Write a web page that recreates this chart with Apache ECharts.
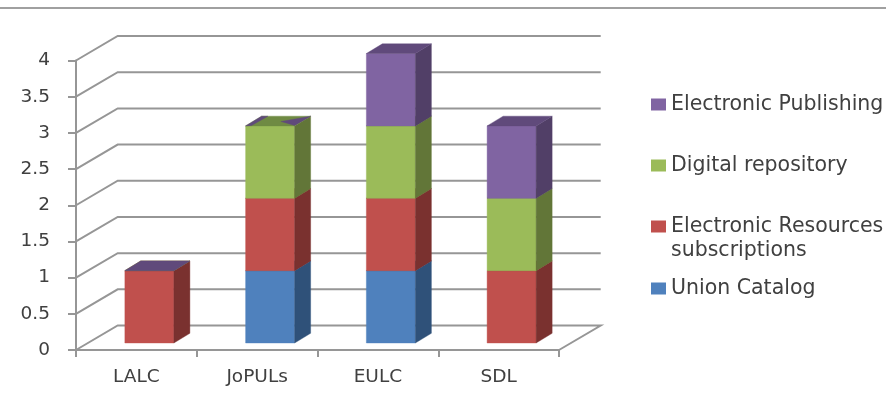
<!DOCTYPE html>
<html><head><meta charset="utf-8">
<style>html,body{margin:0;padding:0;background:#fff}#c{width:886px;height:400px}</style>
<script src="https://cdn.jsdelivr.net/npm/echarts@6/dist/echarts.min.js"></script>
</head><body><div id="c"></div>
<script>
const categories = ['LALC','JoPULs','EULC','SDL'];
const unionCatalog = [0,1,1,0];
const electronicResources = [1,1,1,1];
const digitalRepository = [0,1,1,1];
const electronicPublishing = [0,0,1,1];
const yTicks = [0,0.5,1,1.5,2,2.5,3,3.5,4];

const FONT = 'DejaVu Sans';
const AXIS_SIZE = 18.5;
const LEGEND_SIZE = 20.5;
const TEXT = '#404040';
const LINE = '#969696';
const WALL = {dx:41.7, dy:-24.5};
const FRONT = {dx:13, dy:-7};
const SIDE = {dx:16, dy:-9.7};
const BAR_FRAC = 0.406;

const seriesDefs = [
 {name:'Union Catalog', values:unionCatalog, front:'#4f81bd', side:'#2f5179', top:'#3e6595'},
 {name:'Electronic Resources subscriptions', values:electronicResources, front:'#c0504d', side:'#7a312f', top:'#96403d'},
 {name:'Digital repository', values:digitalRepository, front:'#9bbb59', side:'#627638', top:'#6f8a43'},
 {name:'Electronic Publishing', values:electronicPublishing, front:'#8064a2', side:'#513f67', top:'#604a7b'}
];
const cumulative = categories.map(()=>0);
function poly(points, fill){
  return {type:'polygon', shape:{points}, style:{fill, stroke:fill, lineWidth:0.4}};
}
const barSeries = seriesDefs.map((d,si)=>{
  const data = d.values.map((v,i)=>{
    const base = cumulative[i]; cumulative[i]+=v;
    return [i, base, base+v];
  });
  const isTop = si===seriesDefs.length-1;
  return {
    name:d.name, type:'custom', coordinateSystem:'cartesian2d', clip:false, z:3+si,
    itemStyle:{color:d.front}, encode:{x:0,y:[1,2]}, data, animation:false, silent:true,
    renderItem(params, api){
      const i=api.value(0), lo=api.value(1), hi=api.value(2);
      const w=api.size([1,0])[0]*BAR_FRAC;
      const pLo=api.coord([i,lo]), pHi=api.coord([i,hi]);
      const x0=pLo[0]+FRONT.dx-w/2, x1=x0+w;
      const yB=pLo[1]+FRONT.dy, yT=pHi[1]+FRONT.dy;
      const children=[];
      const topFace=[[x0,yT],[x1,yT],[x1+SIDE.dx,yT+SIDE.dy],[x0+SIDE.dx,yT+SIDE.dy]];
      if(hi>lo){
        children.push(poly([[x0,yB],[x1,yB],[x1,yT],[x0,yT]],d.front));
        children.push(poly([[x1,yB],[x1+SIDE.dx,yB+SIDE.dy],[x1+SIDE.dx,yT+SIDE.dy],[x1,yT]],d.side));
        children.push(poly(topFace,d.top));
      } else if(isTop && digitalRepository[i]>0){
        // zero-height cap coinciding with the green top: only slivers show through
        children.push(poly([[x0,yT],[x0+SIDE.dx,yT+SIDE.dy],[x0+SIDE.dx*1.4,yT+SIDE.dy],[x0+w*0.12,yT-0.3]],d.top));
        children.push(poly([[x1+SIDE.dx,yT+SIDE.dy],[x1+1-w*0.3,yT+SIDE.dy*0.45],[x1,yT-0.5]],d.top));
      } else if(lo>0){
        children.push(poly(topFace,d.top));
      }
      return {type:'group',children};
    }
  };
});

const gridSeries = {
  type:'custom', coordinateSystem:'cartesian2d', clip:false, z:1, silent:true, animation:false,
  encode:{y:0}, data:yTicks.map(t=>[t]),
  renderItem(params, api){
    const t=api.value(0);
    const half=api.size([1,0])[0]/2;
    const a=api.coord([0,t]), b=api.coord([categories.length-1,t]);
    const xL=a[0]-half, xR=b[0]+half, y=a[1];
    const pts=[[xL,y],[xL+WALL.dx,y+WALL.dy],[xR+WALL.dx,y+WALL.dy]];
    if(t===0) pts.push([xR,y]);
    return {type:'polyline',shape:{points:pts},style:{stroke:LINE,lineWidth:2,fill:null}};
  }
};

const legendBox = {left:651, padding:0, icon:'rect', itemWidth:15, itemHeight:12, itemGap:6, selectedMode:false,
  textStyle:{fontFamily:FONT, fontSize:LEGEND_SIZE, color:TEXT}};
const chart = echarts.init(document.getElementById('c'),null,{renderer:'canvas'});
chart.setOption({
  animation:false,
  backgroundColor:'#fff',
  grid:{left:76, right:327, top:60.5, bottom:50},
  xAxis:{type:'category', data:categories, boundaryGap:true,
    axisLine:{lineStyle:{color:LINE,width:2}},
    axisTick:{show:true,alignWithLabel:false,length:7,lineStyle:{color:LINE,width:2}},
    axisLabel:{fontFamily:FONT,fontSize:AXIS_SIZE,color:TEXT,margin:18}, splitLine:{show:false}},
  yAxis:{type:'value', min:0, max:4, interval:0.5,
    axisLine:{show:true,lineStyle:{color:LINE,width:2}},
    axisTick:{show:true,length:8,lineStyle:{color:LINE,width:2}},
    axisLabel:{fontFamily:FONT,fontSize:AXIS_SIZE,color:TEXT,margin:26}, splitLine:{show:false}},
  legend:[
    Object.assign({},legendBox,{top:94,data:['Electronic Publishing']}),
    Object.assign({},legendBox,{top:155,data:['Digital repository']}),
    Object.assign({},legendBox,{top:216,data:['Electronic Resources subscriptions'],formatter:()=>'Electronic Resources'}),
    Object.assign({},legendBox,{top:278,data:['Union Catalog']})
  ],
  graphic:[
    {type:'line',shape:{x1:0,y1:8,x2:886,y2:8},style:{stroke:'#808080',lineWidth:1.5},silent:true},
    {type:'text',left:671,top:240,style:{text:'subscriptions',font:LEGEND_SIZE+'px "'+FONT+'"',fill:TEXT},silent:true}
  ],
  series:[gridSeries].concat(barSeries)
});
</script></body></html>
